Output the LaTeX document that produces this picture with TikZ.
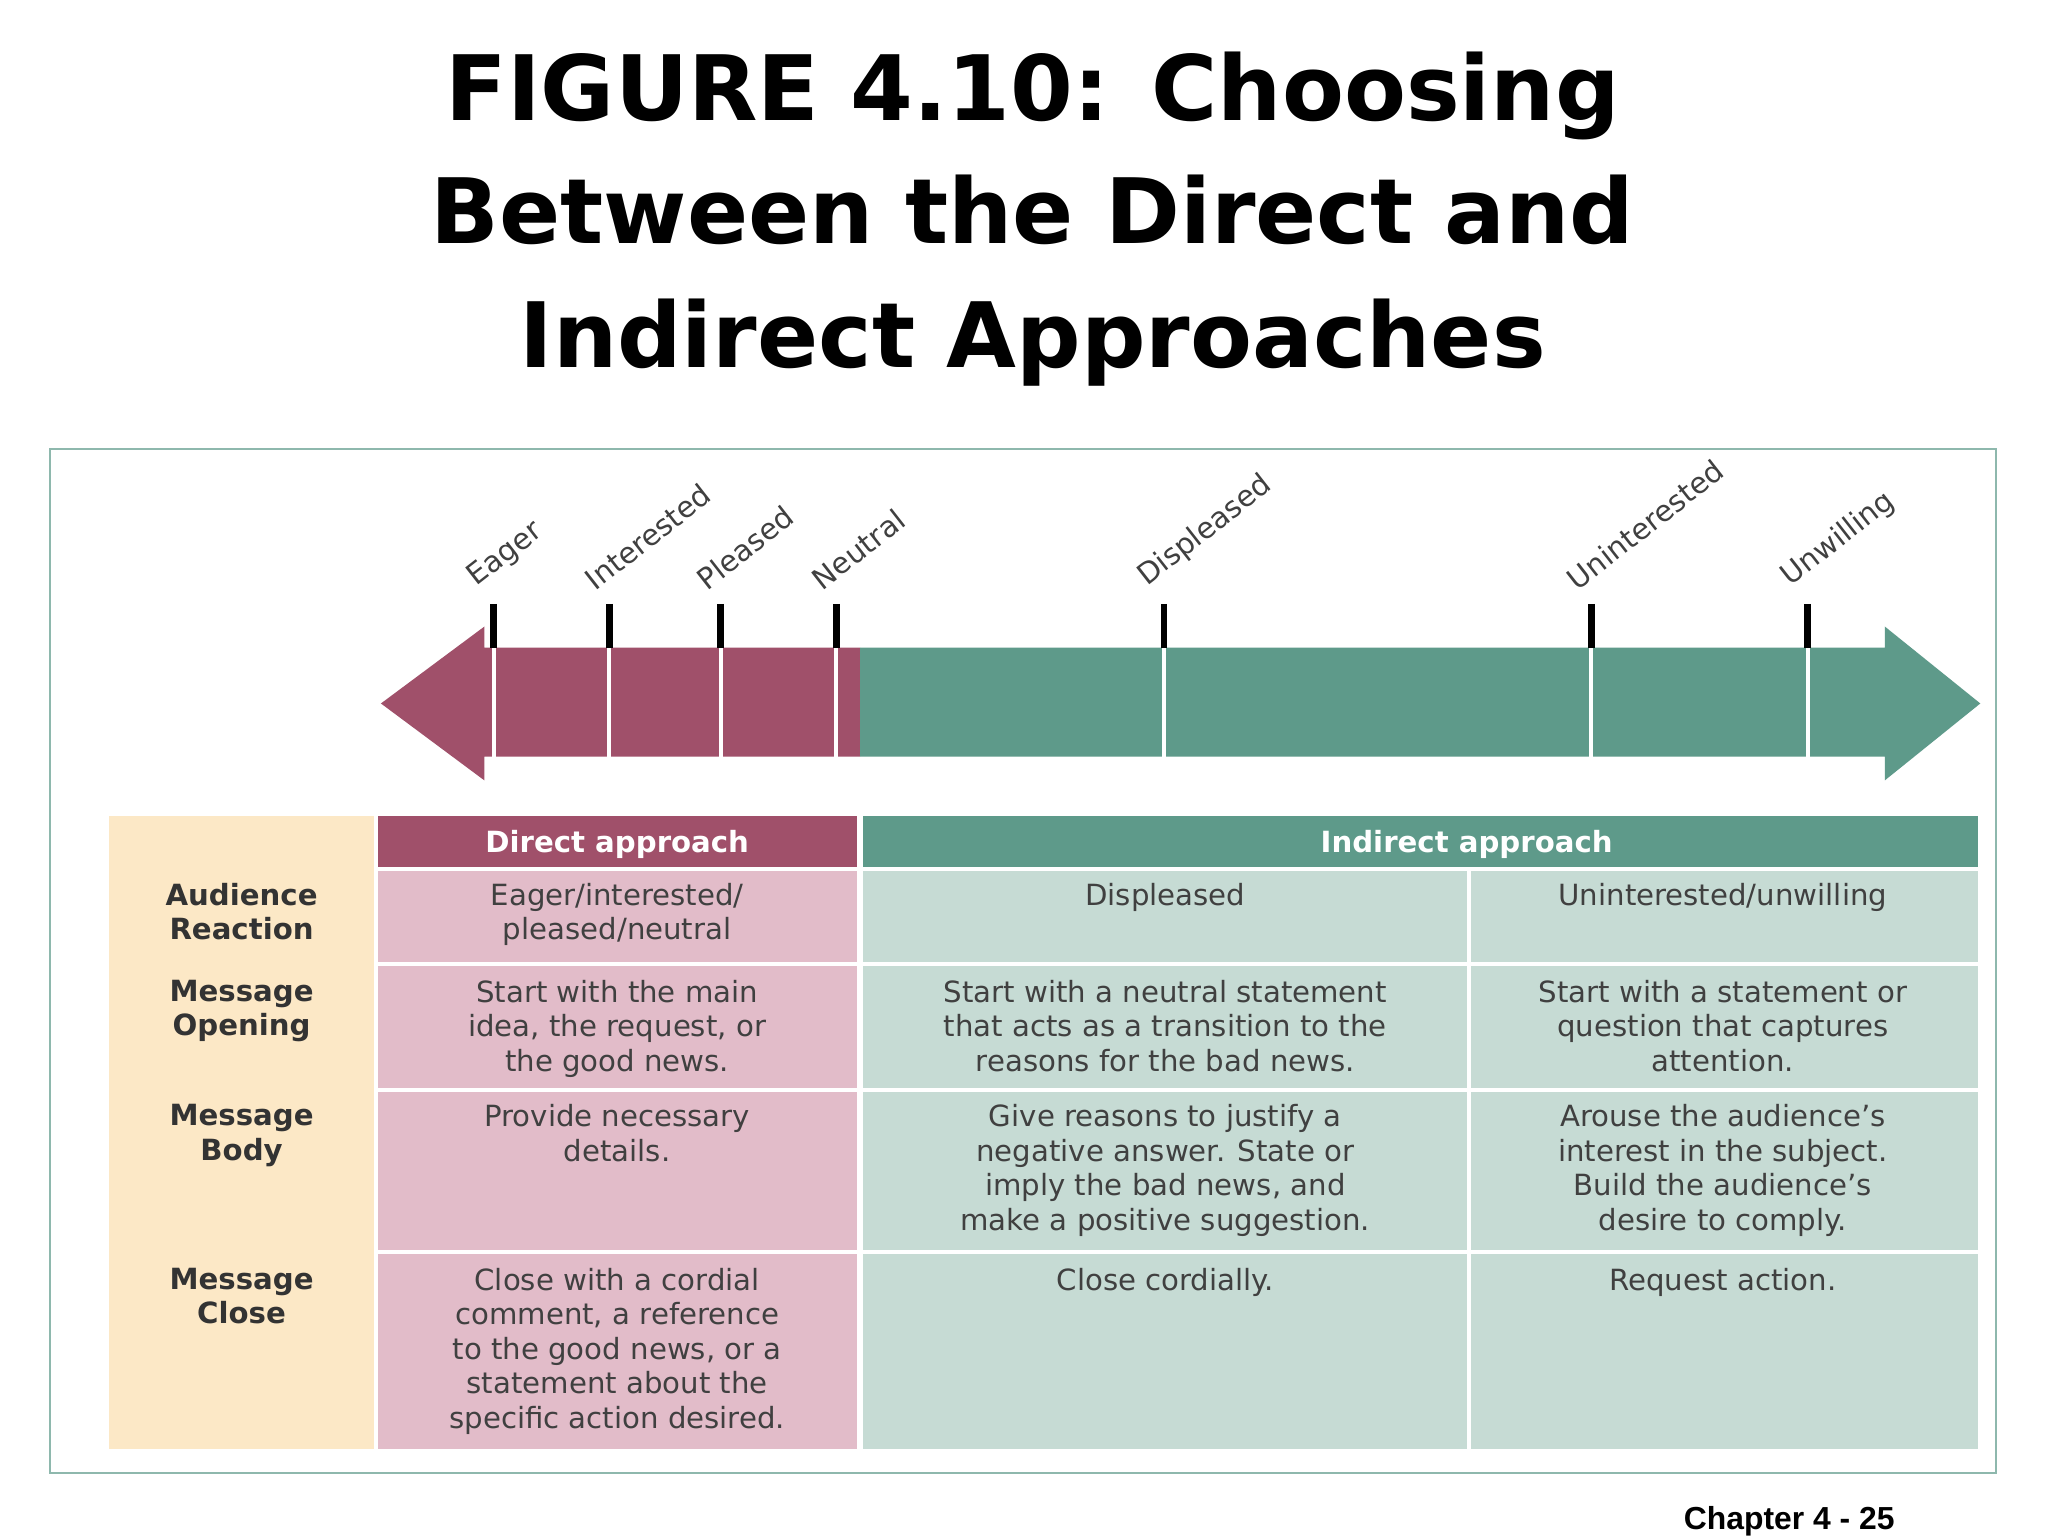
\documentclass[tikz,border=0pt]{standalone}
\usepackage{fontspec}
\setmainfont{DejaVu Sans}
\newfontfamily\arialf{Liberation Sans}
\definecolor{pk}{HTML}{A0506A}
\definecolor{pkc}{HTML}{E2BCC9}
\definecolor{tl}{HTML}{5E9A8A}
\definecolor{tlc}{HTML}{C6DBD4}
\definecolor{pc}{HTML}{FCE8C6}
\definecolor{tx}{HTML}{404040}
\tikzset{cell/.style={anchor=north,align=center,font=\fontsize{22}{26}\selectfont,text=tx,inner sep=0pt},
lab/.style={cell,font=\bfseries\fontsize{22}{26}\selectfont,text=black!80},
hd/.style={anchor=center,font=\bfseries\fontsize{22}{26}\selectfont,text=white,inner sep=0pt},
tick/.style={anchor=south west,rotate=38,font=\fontsize{22}{26}\selectfont,text=tx,inner sep=0pt}}
\begin{document}
\begin{tikzpicture}[x=1pt,y=-1pt]
\useasboundingbox (0,0) rectangle (1543,1157);
\fill[white] (0,0) rectangle (1543,1157);
\node[font=\bfseries\fontsize{68}{93}\selectfont,align=center] (title) at (778,165) {FIGURE 4.10: Choosing\\Between the Direct and\\Indirect Approaches};
\draw[tl!70,line width=1.5pt] (38,338) rectangle (1504,1110);
% arrow
\fill[pk] (287,530) -- (365,472) -- (365,488) -- (648,488) -- (648,570) -- (365,570) -- (365,588) -- cycle;
\fill[tl] (648,488) -- (1420,488) -- (1420,472) -- (1492,530) -- (1420,588) -- (1420,570) -- (648,570) -- cycle;
\foreach \x/\t in {372/Eager,459/Interested,543/Pleased,630/Neutral,877/Displeased,1199/Uninterested,1362/Unwilling}{
  \draw[white,line width=3pt] (\x,488) -- (\x,570);
  \draw[black,line width=5pt] (\x,455) -- (\x,488);
  \node[tick] (t\x) at (\x-10,446) {\t};
}
% table
\fill[pc] (82,615) rectangle (282,1092);
\fill[pk] (285,615) rectangle (646,653);
\fill[tl] (650,615) rectangle (1490,653);
\foreach \a/\b in {656/725,728/820,823/942,945/1092}{
  \fill[pkc] (285,\a) rectangle (646,\b);
  \fill[tlc] (650,\a) rectangle (1105,\b);
  \fill[tlc] (1108,\a) rectangle (1490,\b);
}
\node[hd] (hdir) at (465,636) {Direct approach};
\node[hd] (hind) at (1105,636) {Indirect approach};
\node[lab] (l1) at (182,665) {Audience\\Reaction};
\node[lab] (l2) at (182,738) {Message\\Opening};
\node[lab] (l3) at (182,832) {Message\\Body};
\node[lab] (l4) at (182,955) {Message\\Close};
\node[cell] (c11) at (465,665) {Eager/interested/\\pleased/neutral};
\node[cell] (c12) at (878,665) {Displeased};
\node[cell] (c13) at (1298,665) {Uninterested/unwilling};
\node[cell] (c21) at (465,738) {Start with the main\\idea, the request, or\\the good news.};
\node[cell] (c22) at (878,738) {Start with a neutral statement\\that acts as a transition to the\\reasons for the bad news.};
\node[cell] (c23) at (1298,738) {Start with a statement or\\question that captures\\attention.};
\node[cell] (c31) at (465,832) {Provide necessary\\details.};
\node[cell] (c32) at (878,832) {Give reasons to justify a\\negative answer. State or\\imply the bad news, and\\make a positive suggestion.};
\node[cell] (c33) at (1298,832) {Arouse the audience’s\\interest in the subject.\\Build the audience’s\\desire to comply.};
\node[cell] (c41) at (465,955) {Close with a cordial\\comment, a reference\\to the good news, or a\\statement about the\\specific action desired.};
\node[cell] (c42) at (878,955) {Close cordially.};
\node[cell] (c43) at (1298,955) {Request action.};
\node[font=\arialf\bfseries\fontsize{24}{28}\selectfont,anchor=center] (foot) at (1348,1146) {Chapter 4 - 25};
\end{tikzpicture}
\end{document}
